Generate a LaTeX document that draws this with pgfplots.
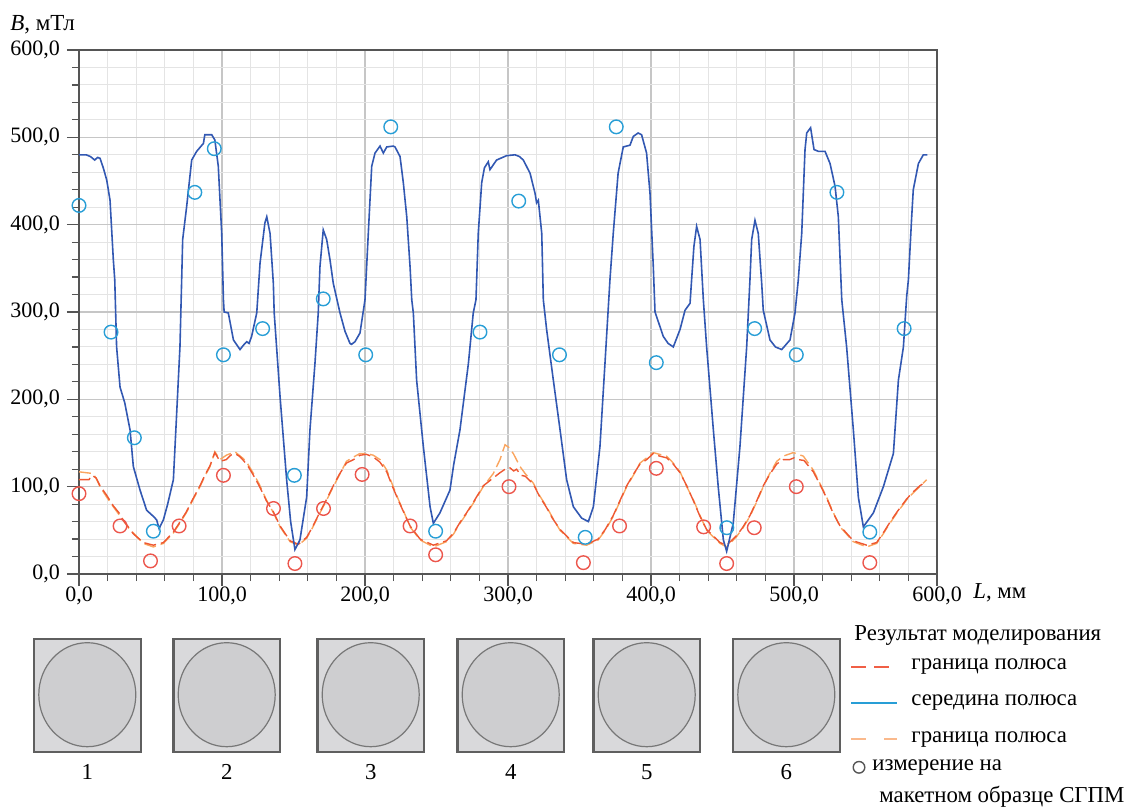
\documentclass[border=0pt]{standalone}
\usepackage{fontspec}
\setmainfont{Liberation Serif}
\usepackage{pgfplots}
\pgfplotsset{compat=1.18}

\definecolor{bline}{RGB}{50,88,178}
\definecolor{bcirc}{RGB}{40,158,214}
\definecolor{rcirc}{RGB}{236,86,76}
\definecolor{rline}{RGB}{238,88,50}
\definecolor{oline}{RGB}{250,165,95}
\definecolor{legr}{RGB}{240,95,70}
\definecolor{lego}{RGB}{250,185,140}
\definecolor{axgray}{RGB}{85,85,85}
\definecolor{gmaj}{RGB}{198,198,198}
\definecolor{gmin}{RGB}{228,228,228}
\definecolor{sqfill}{RGB}{217,217,219}
\definecolor{elfill}{RGB}{206,206,208}
\definecolor{sqdraw}{RGB}{95,95,95}

\begin{document}
\begin{tikzpicture}
\begin{axis}[
  at={(0,0)}, anchor=south west,
  scale only axis, width=429pt, height=262pt,
  xmin=0, xmax=600, ymin=0, ymax=600,
  xtick={0,100,...,600}, ytick={0,100,...,600},
  minor tick num=4,
  grid=both,
  major grid style={draw=gmaj, line width=0.6pt},
  minor grid style={draw=gmin, line width=0.5pt},
  axis line style={draw=axgray, line width=0.7pt},
  tick style={draw=axgray, line width=0.6pt},
  tick align=outside, xtick pos=left, ytick pos=left,
  major tick length=6pt, minor tick length=3.5pt,
  tick label style={font=\fontsize{11}{12}\selectfont},
  xticklabel style={yshift=3pt, /pgf/number format/.cd, fixed, fixed zerofill, precision=1, use comma, 1000 sep={}, assume math mode=true},
  yticklabel style={/pgf/number format/.cd, fixed, fixed zerofill, precision=1, use comma, 1000 sep={}, assume math mode=true},
  clip=false,
]
% boundary of pole, light orange
\addplot[oline, line width=0.7pt, dash pattern=on 6pt off 2.5pt] coordinates {
(0,117)(5,116)(10,115)(12.4,108)(14.7,100)(19.4,88)(24,77)(28,68)(31,62)(34,54)(38,47)(45,35)(52,31)(59,35)(66,47)(70,57)(75,70)(80,86)(84.6,100)(88,112)(91.6,123)(95,140)(98.6,131)(103,136)(106,138)(109,140)(112,136)(115,132)(118,126)(122,115)(126,103)(131,85)(136,70)(140.6,54)(147.6,37)(153.4,33)(159.2,41)(163,52)(168.5,70)(173,84)(177.8,100)(182,113)(187,129)(192,134)(196.5,138)(201,138)(205.8,136)(210.5,131)(215.2,119)(219,103)(223.4,85)(227,72)(231.5,54)(238.5,39)(247.8,31)(257,37)(262,46)(266.4,58)(271,69)(275.7,81)(282.7,100)(289.7,115)(294.4,131)(297.9,148)(300.5,145)(303.7,138)(308.4,123)(312,115)(317.7,104)(322,90)(327,77)(331,65)(336.4,50)(345.7,35)(355,33)(363,39)(368,50)(373.6,66)(378,82)(383,100)(388,114)(392.3,127)(397,133)(401.6,139)(406,137)(410.9,135)(415,128)(420.3,117)(425,100)(429.6,85)(434,68)(438.9,50)(448.3,35)(452.9,31)(459.9,43)(464,52)(469.2,66)(474,83)(478.5,100)(483,115)(487.9,129)(492.5,135)(499.5,139)(506.5,135)(513.5,119)(518,104)(522.8,88)(527,72)(532.2,54)(541.5,37)(550.8,31)(557.8,35)(562,45)(567,58)(572,70)(578.8,85)(584,94)(588,100)(592.7,108)
};
% boundary of pole, red
\addplot[rline, line width=0.7pt, dash pattern=on 6pt off 2.5pt] coordinates {
(0,108)(7,108)(9,113)(12,110)(14.7,101)(19.4,90)(24,78)(28,70)(31,61)(34,55)(38,46)(45,36)(52,33)(59,36)(66,48)(70,58)(75,71)(80,87)(84.6,101)(88,113)(91.6,124)(95,139)(98.6,129)(103,131)(106,136)(109,138)(112,135)(115,130)(118,124)(122,113)(126,101)(131,84)(136,71)(140.6,55)(147.6,38)(153.4,34)(159.2,42)(163,53)(168.5,71)(173,85)(177.8,101)(182,114)(187,127)(192,131)(196.5,136)(201,137)(205.8,134)(210.5,128)(215.2,117)(219,101)(223.4,84)(227,71)(231.5,55)(238.5,40)(247.8,33)(257,38)(262,47)(266.4,59)(271,70)(275.7,82)(282.7,101)(289.7,110)(294.4,116)(298,120)(301,122)(304,118)(306,120)(309,113)(312,112)(317.7,103)(322,89)(327,76)(331,64)(336.4,51)(345.7,36)(355,34)(363,40)(368,51)(373.6,67)(378,83)(383,101)(388,115)(392.3,126)(397,131)(401.6,138)(406,135)(410.9,133)(415,127)(420.3,116)(425,101)(429.6,84)(434,67)(438.9,51)(448.3,36)(452.9,33)(459.9,44)(464,53)(469.2,67)(474,84)(478.5,101)(483,114)(487.9,126)(492.5,131)(497,131)(500,133)(503,131)(507,130)(513.5,117)(518,103)(522.8,87)(527,71)(532.2,55)(541.5,38)(550.8,33)(557.8,36)(562,46)(567,59)(572,71)(578.8,86)(584,95)(588,101)(592.7,106)
};
% middle of pole
\addplot[bline, line width=0.8pt] coordinates {
(0,480)(5,480)(8,478)(11,474)(13,477)(14.7,476)(17,465)(19.4,451)(21.7,428)(24,360)(25,337)(26.3,260)(28.7,214)(32,196)(35.7,165)(38,123)(42.7,96)(47.3,73)(52,66)(54.3,62)(56,52)(59,62)(62,80)(66,108)(68.3,184)(70.6,260)(71.8,337)(72.5,383)(75.3,421)(78.8,474)(82.3,484)(87,493)(88,503)(92.8,503)(95,497)(97.4,467)(99.8,390)(101,314)(101.5,300)(104.4,299)(108,268)(112.6,257)(115,262)(117.3,266)(118.9,264)(120.7,272)(124.3,299)(126.6,356)(130,402)(131.3,409)(133.6,390)(135.9,333)(136.5,299)(140.6,203)(145.2,108)(148,60)(151,28)(154.5,39)(159.2,88)(161.5,165)(165,241)(167.3,299)(168.5,352)(170.8,394)(173.2,383)(175.5,360)(177.8,333)(182.5,299)(186,278)(189.5,264)(190.6,263)(193,266)(196.5,276)(200,314)(202.3,390)(204.7,467)(207,482)(210.5,490)(212.8,482)(215.2,489)(219.8,490)(221,489)(224.5,478)(226.8,448)(229.2,409)(231.5,352)(232.7,314)(233.8,299)(236.1,222)(240.8,146)(245.5,77)(247.8,58)(252.4,70)(259.4,96)(262,125)(266.4,165)(272.3,241)(275.7,299)(277.6,314)(279.2,390)(281.6,448)(283.5,465)(285,469)(286.2,472)(287.4,463)(292,474)(299,479)(304.9,480)(308,478)(310.7,474)(315.4,459)(318.9,436)(320,425)(321.2,428)(323.6,390)(324.7,314)(327,280)(331.7,222)(336.4,165)(341,108)(345.7,77)(351.5,64)(356.2,60)(359.7,77)(364.3,146)(367.8,241)(371.3,337)(373.6,390)(377,459)(380.6,489)(385.3,491)(387.6,501)(391,505)(393.4,503)(396.9,482)(399.3,436)(401.6,352)(402.8,300)(408.6,272)(412,264)(415.6,260)(420.3,280)(423.8,302)(427.3,310)(428.4,337)(430,375)(431.9,398)(434.3,383)(436.6,314)(438.9,260)(443.6,165)(447,100)(450.6,39)(452.9,26)(457.5,58)(462.2,146)(466.9,260)(469.2,337)(470.4,383)(472.7,405)(475,390)(477.4,333)(478.5,302)(483.2,268)(487,260)(491.4,257)(497.2,268)(500.7,299)(503,337)(505.4,390)(507.7,486)(508.9,505)(511.6,511)(514,486)(517,484)(521.7,484)(525.2,470)(528.7,444)(531,409)(533.4,314)(536.8,260)(541.5,165)(545,88)(548.5,54)(552,62)(555.5,70)(562.5,100)(569.5,138)(573,222)(576.5,260)(578.8,318)(580,337)(582.3,409)(583.4,440)(587,470)(590.4,480)(593.2,480)
};
% measurements, middle of pole
\addplot[only marks, mark=o, mark size=3.4pt, mark options={draw=bcirc, line width=0.7pt}] coordinates {
(0,422)(22.4,277)(38.7,156)(52,49)(81,437)(94.6,487)(101,251)(128.4,281)(150.6,113)(170.8,315)(200.5,251)(218,512)(249.4,49)(280.4,277)(307.5,427)(336,251)(354,42)(375.7,512)(403.7,242)(453,53)(472.5,281)(501.6,251)(530,437)(553,48)(577,281)
};
% measurements, boundary of pole
\addplot[only marks, mark=o, mark size=3.4pt, mark options={draw=rcirc, line width=0.7pt}] coordinates {
(0,92)(28.7,55)(50,15)(70,55)(101,113)(136,75)(151,12)(171,75)(198,114)(231.5,55)(249.4,22)(300.7,100)(352.7,13)(378,55)(403.7,121)(436.8,54)(452.9,12)(472.2,53)(501.6,100)(553,13)
};
\end{axis}

% pixel frame of the picture: (0,0) top-left, axis box at (79,50)-(937,574)
\begin{scope}[x=0.5pt, y=-0.5pt, shift={(-79,-574)}]
\path (0,0) rectangle (1127,808);
\node[anchor=west, inner sep=0pt, font=\fontsize{11.5}{13}\selectfont] at (10,25) {\textit{B}, мТл};
\node[anchor=west, inner sep=0pt, font=\fontsize{11.4}{13}\selectfont] at (973,593) {\textit{L}, мм};
% cross-sections of the poles
\foreach \xl/\lab in {33.3/1, 172.7/2, 316.7/3, 456.7/4, 592.7/5, 732.3/6} {
  \fill[sqfill] (\xl,639) rectangle ++(108,113);
  \draw[sqdraw!85, fill=elfill, line width=0.6pt] (\xl+54,694.7) ellipse[x radius=48.5, y radius=52];
  \draw[sqdraw, line width=0.6pt] (\xl,639) rectangle ++(108,113);
  \draw[sqdraw, line width=1.1pt] (\xl+0.7,639) -- ++(0,113) (\xl+107.3,639) -- ++(0,113);
  \node[font=\fontsize{11.4}{13}\selectfont] at (\xl+54,772) {\lab};
}
% legend
\begin{scope}[every node/.style={anchor=west, inner sep=0pt, font=\fontsize{11.4}{13}\selectfont}]
\node at (854,635) {Результат моделирования};
\draw[legr, line width=0.8pt, dash pattern=on 7.5pt off 4pt] (851,666.7) -- (897,666.7);
\node at (911,666.7) {граница полюса};
\draw[bcirc, line width=0.8pt] (851,702.7) -- (897,702.7);
\node at (911,702.7) {середина полюса};
\draw[lego, line width=1pt, dash pattern=on 7.5pt off 9pt] (851,739.3) -- (897,739.3);
\node at (911,739.3) {граница полюса};
\draw[axgray, line width=0.7pt] (859,767.3) circle[radius=5.8];
\node at (872,767.3) {измерение на};
\node at (879,796.7) {макетном образце СГПМ};
\end{scope}
\end{scope}
\end{tikzpicture}
\end{document}
